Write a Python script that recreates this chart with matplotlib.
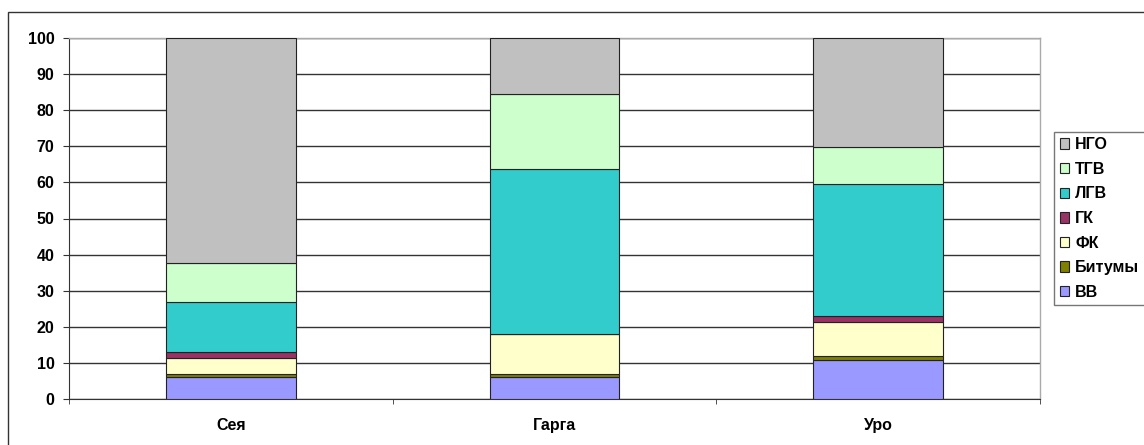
import numpy as np
import matplotlib
matplotlib.use("Agg")
import matplotlib.pyplot as plt
from matplotlib.patches import Rectangle

plt.rcParams['font.family'] = ['Liberation Sans', 'DejaVu Sans']

# data (percent)
categories = ['Сея', 'Гарга', 'Уро']
series_names = ['ВВ', 'Битумы', 'ФК', 'ГК', 'ЛГВ', 'ТГВ', 'НГО']
vv = [6.1, 6.1, 11.0]
bitum = [0.8, 1.0, 1.1]
fk = [4.4, 10.9, 9.2]
gk = [1.7, 0.0, 1.8]
lgv = [13.9, 45.6, 36.4]
tgv = [10.7, 20.7, 10.3]
ngo = [62.4, 15.7, 30.2]
colors = ['#9999FF', '#808000', '#FFFFCC', '#993366', '#33CCCC', '#CCFFCC', '#C0C0C0']
yticks = list(range(0, 101, 10))

series = [vv, bitum, fk, gk, lgv, tgv, ngo]

fig = plt.figure(figsize=(11.44, 4.45), dpi=100)
W, H = 1144, 445
# plot area in pixels: x 69..1040, y 37.7..399.3
ax = fig.add_axes([69 / W, 1 - 399.3 / H, (1040 - 69) / W, (399.3 - 37.7) / H])

# outer chart frame (runs off the right and bottom edges)
fig.patches.append(Rectangle((8 / W, -0.1), 1.2, 1 - 11.5 / H + 0.1,
                             transform=fig.transFigure, fill=False,
                             edgecolor='#333333', linewidth=1.0, clip_on=False))

x = np.arange(len(categories))
bottom = np.zeros(len(categories))
handles = []
for name, vals, c in zip(series_names, series, colors):
    b = ax.bar(x, vals, width=0.4, bottom=bottom, color=c, edgecolor='#222222',
               linewidth=0.8, label=name, zorder=3)
    bottom += np.array(vals)
    handles.append(b)

ax.set_xlim(-0.5, len(categories) - 0.5)
ax.set_ylim(0, 100)
ax.set_yticks(yticks)
ax.set_yticklabels([str(t) for t in yticks], fontsize=11.5, fontweight='bold')
ax.set_xticks(x)
ax.set_xticklabels(categories, fontsize=11.5, fontweight='bold')
ax.tick_params(axis='x', length=0, pad=13.5)
ax.set_xticks(np.arange(-0.5, len(categories), 1.0), minor=True)
ax.tick_params(axis='x', which='minor', length=3.6, direction='out', color='#333333')
ax.tick_params(axis='y', length=4.5, direction='out', color='#333333', pad=6)

ax.yaxis.grid(True, color='#333333', linewidth=1.0, zorder=0)
ax.set_axisbelow(True)
for s in ['top', 'right']:
    ax.spines[s].set_color('#aaaaaa')
    ax.spines[s].set_linewidth(1.0)
ax.spines['left'].set_color('#333333')
ax.spines['bottom'].set_color('#333333')

leg = fig.legend(handles[::-1], series_names[::-1],
                 loc='upper left', bbox_to_anchor=(1054 / W, 1 - 131.7 / H),
                 frameon=True, fancybox=False, edgecolor='#555555',
                 prop={'size': 11.5, 'weight': 'bold'}, handlelength=0.62,
                 handleheight=0.62, handletextpad=0.35, labelspacing=0.6,
                 borderpad=0.35, borderaxespad=0)
leg.get_frame().set_linewidth(1.0)

fig.savefig('out.png', dpi=100)
